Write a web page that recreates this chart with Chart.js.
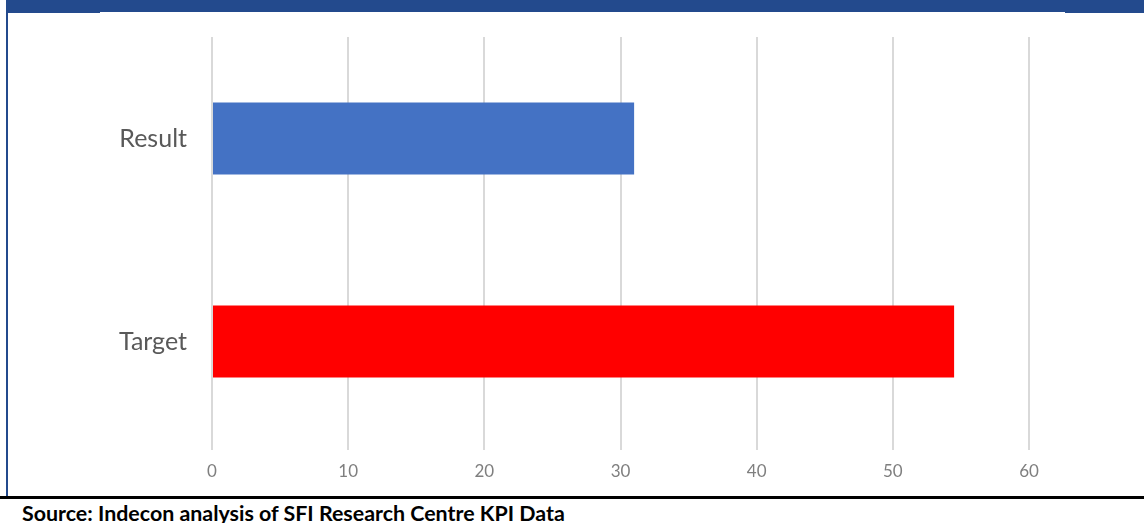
<!DOCTYPE html>
<html>
<head>
<meta charset="utf-8">
<script src="https://cdn.jsdelivr.net/npm/chart.js@4/dist/chart.umd.min.js"></script>
<style>
  html, body { margin: 0; padding: 0; background: #fff; }
  #page { position: relative; width: 1144px; height: 523px; overflow: hidden; background: #fff; }
  .blue { position: absolute; background: #234a8d; }
  #chartBox { position: absolute; left: 0; top: 14px; width: 1144px; height: 480px; }
  #rule { position: absolute; left: 0; top: 496px; width: 1144px; height: 3px; background: #000; }
  #source { position: absolute; left: 22px; top: 503px; font: bold 21.4px/21px Lato, "Liberation Sans", sans-serif; color: #000; white-space: nowrap; }
</style>
</head>
<body>
<div id="page">
  <div class="blue" style="left:6px;top:0;width:1138px;height:12px"></div>
  <div class="blue" style="left:6px;top:12px;width:94px;height:1px"></div>
  <div class="blue" style="left:1065px;top:12px;width:79px;height:1px"></div>
  <div class="blue" style="left:6px;top:0;width:2px;height:496px"></div>
  <div id="chartBox"><canvas id="chart" width="1144" height="480"></canvas></div>
  <div id="rule"></div>
  <div id="source">Source: Indecon analysis of SFI Research Centre KPI Data</div>
</div>
<script>
const categories = ['Result', 'Target'];
const values = [31, 54.5];
const barColors = ['#4472c4', '#ff0000'];
const tickValues = [0, 10, 20, 30, 40, 50, 60];

const ctx = document.getElementById('chart').getContext('2d');
new Chart(ctx, {
  type: 'bar',
  data: {
    labels: categories,
    datasets: [{
      data: values,
      backgroundColor: barColors,
      borderWidth: 0,
      categoryPercentage: 1,
      barPercentage: 0.355
    }]
  },
  options: {
    indexAxis: 'y',
    responsive: false,
    animation: false,
    layout: { padding: { top: 23, right: 115, left: 0, bottom: 0 } },
    plugins: { legend: { display: false }, tooltip: { enabled: false } },
    scales: {
      x: {
        min: 0,
        max: 60,
        afterBuildTicks: (scale) => { scale.ticks = tickValues.map(v => ({ value: v })); },
        afterFit: (scale) => {
          scale.height = 51;
          scale.paddingLeft = 0;
          scale.paddingRight = 0;
        },
        border: { display: false },
        grid: { color: '#d9d9d9', lineWidth: 2, tickLength: 7, drawTicks: true },
        ticks: { color: '#7f7f7f', padding: 11, font: { family: 'Lato', size: 17 } }
      },
      y: {
        afterFit: (scale) => {
          scale.width = 212;
          scale.paddingTop = 0;
          scale.paddingBottom = 0;
        },
        border: { display: false },
        grid: { display: false, drawTicks: false },
        ticks: { color: '#595959', padding: 25, font: { family: 'Lato', size: 25 } }
      }
    }
  }
});
</script>
</body>
</html>
